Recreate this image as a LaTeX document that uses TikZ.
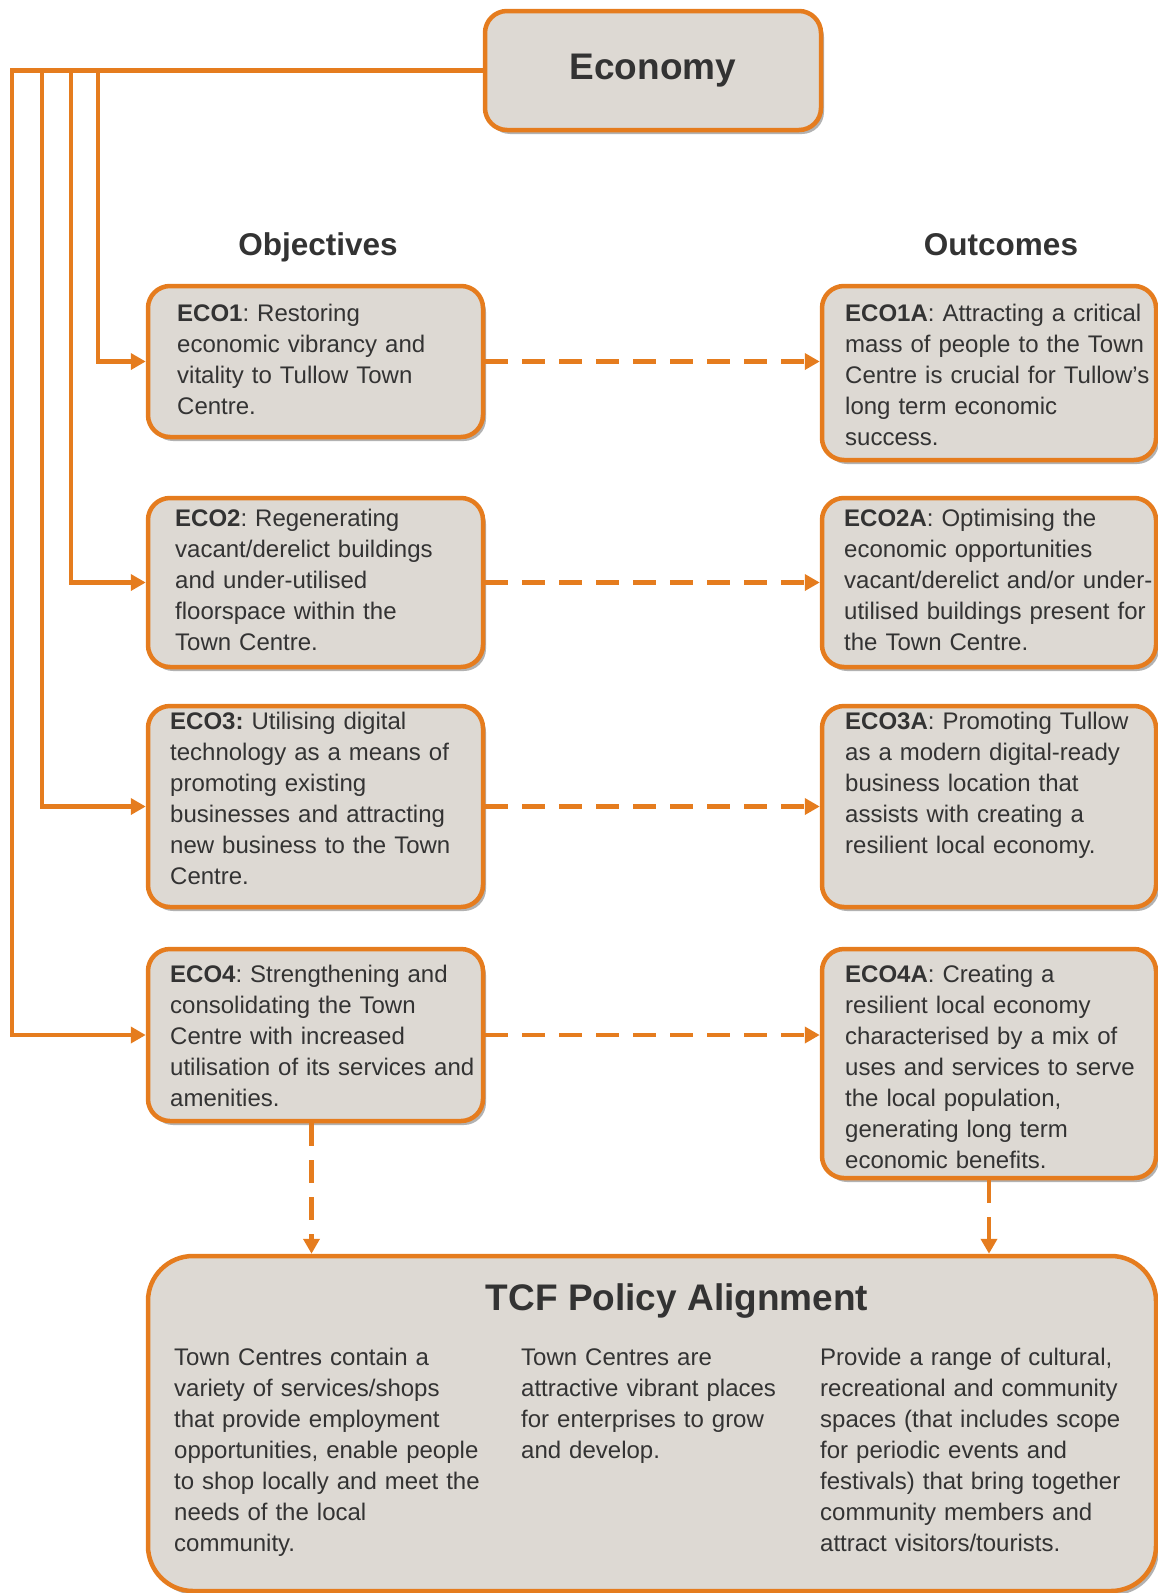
\documentclass[tikz,border=0pt]{standalone}
\usepackage{fontspec}
\setmainfont{Liberation Sans}
\usepackage{tikz}
\usetikzlibrary{arrows.meta,shadows}
\definecolor{ecoorange}{RGB}{229,124,30}
\definecolor{ecofill}{RGB}{221,217,211}
\definecolor{ecotext}{RGB}{51,51,51}
\frenchspacing
\tikzset{
  box/.style={draw=ecoorange,line width=4.5pt,fill=ecofill,rounded corners=22pt,
    drop shadow={shadow xshift=3pt,shadow yshift=-4pt,opacity=0.3,fill=black}},
  objbox/.style={box,minimum width=335pt},
  outbox/.style={box,minimum width=334pt},
  boxtxt/.style={anchor=base west,inner sep=0pt,text width=330pt,align=left,
    text=ecotext,font=\fontsize{24}{31}\selectfont},
  head/.style={anchor=base,inner sep=0pt,text=ecotext,
    font=\fontsize{31.5}{36}\selectfont\bfseries},
  link/.style={draw=ecoorange,line width=4.5pt,-{Triangle[length=15pt,width=16pt]}},
  dlink/.style={link,dash pattern=on 23pt off 14pt}
}

\begin{document}
\begin{tikzpicture}[x=1pt,y=-1pt]
\useasboundingbox (0,0) rectangle (1158,1593);

\node[box,minimum width=336pt,minimum height=119pt,text=ecotext,
  font=\fontsize{37}{40}\selectfont\bfseries] (eco) at (653,70.5) {Economy};

\node[head] (objhead) at (318,255.5) {Objectives};
\node[head] (outhead) at (1001,255.5) {Outcomes};

\node[objbox,minimum height=151pt] (obj1) at (315.5,361.5) {};
\node[objbox,minimum height=169pt] (obj2) at (315.5,582.5) {};
\node[objbox,minimum height=201pt] (obj3) at (315.5,806.5) {};
\node[objbox,minimum height=172pt] (obj4) at (315.5,1035) {};

\node[outbox,minimum height=174pt] (out1) at (989,373) {};
\node[outbox,minimum height=169pt] (out2) at (989,582.5) {};
\node[outbox,minimum height=201pt] (out3) at (989,806.5) {};
\node[outbox,minimum height=229pt] (out4) at (989,1063.5) {};

\node[box,rounded corners=45pt,minimum width=1008pt,minimum height=335pt] (tcf) at (652,1423.5) {};

\node[boxtxt] (obj1txt) at (177,321.7) {\textbf{ECO1}: Restoring\\economic vibrancy and\\vitality to Tullow Town\\Centre.};
\node[boxtxt] (obj2txt) at (175,526.7) {\textbf{ECO2}: Regenerating\\vacant/derelict buildings\\and under-utilised\\floorspace within the\\Town Centre.};
\node[boxtxt] (obj3txt) at (170,729.3) {\textbf{ECO3:} Utilising digital\\technology as a means of\\promoting existing\\businesses and attracting\\new business to the Town\\Centre.};
\node[boxtxt] (obj4txt) at (170,982.7) {\textbf{ECO4}: Strengthening and\\consolidating the Town\\Centre with increased\\utilisation of its services and\\amenities.};

\node[boxtxt] (out1txt) at (845,321.7) {\textbf{ECO1A}: Attracting a critical\\mass of people to the Town\\Centre is crucial for Tullow’s\\long term economic\\success.};
\node[boxtxt] (out2txt) at (844,526.7) {\textbf{ECO2A}: Optimising the\\economic opportunities\\vacant/derelict and/or under-\\utilised buildings present for\\the Town Centre.};
\node[boxtxt] (out3txt) at (845,729.3) {\textbf{ECO3A}: Promoting Tullow\\as a modern digital-ready\\business location that\\assists with creating a\\resilient local economy.};
\node[boxtxt] (out4txt) at (845,982.7) {\textbf{ECO4A}: Creating a\\resilient local economy\\characterised by a mix of\\uses and services to serve\\the local population,\\generating long term\\economic benefits.};

\node[head,font=\fontsize{37}{40}\selectfont\bfseries] (tcfhead) at (677,1310) {TCF Policy Alignment};
\node[boxtxt] (col1) at (174,1365) {Town Centres contain a\\variety of services/shops\\that provide employment\\opportunities, enable people\\to shop locally and meet the\\needs of the local\\community.};
\node[boxtxt] (col2) at (521,1365) {Town Centres are\\attractive vibrant places\\for enterprises to grow\\and develop.};
\node[boxtxt] (col3) at (820,1365) {Provide a range of cultural,\\recreational and community\\spaces (that includes scope\\for periodic events and\\festivals) that bring together\\community members and\\attract visitors/tourists.};

\coordinate (k1) at (98,0);
\coordinate (k2) at (71,0);
\coordinate (k3) at (42,0);
\coordinate (k4) at (12,0);
\draw[link] (eco.west) -- (eco.west -| k4) |- (obj4.west);
\draw[link] (eco.west) -- (eco.west -| k3) |- (obj3.west);
\draw[link] (eco.west) -- (eco.west -| k2) |- (obj2.west);
\draw[link] (eco.west) -- (eco.west -| k1) |- (obj1.west);

\draw[dlink] (obj1.east) -- (obj1.east -| out1.west);
\draw[dlink] (obj2.east) -- (obj2.east -| out2.west);
\draw[dlink] (obj3.east) -- (obj3.east -| out3.west);
\draw[dlink] (obj4.east) -- (obj4.east -| out4.west);

\draw[dlink] ([xshift=-4pt]obj4.south) -- ([xshift=-4pt]obj4.south |- tcf.north);
\draw[dlink] (out4.south) -- (out4.south |- tcf.north);
\end{tikzpicture}
\end{document}
